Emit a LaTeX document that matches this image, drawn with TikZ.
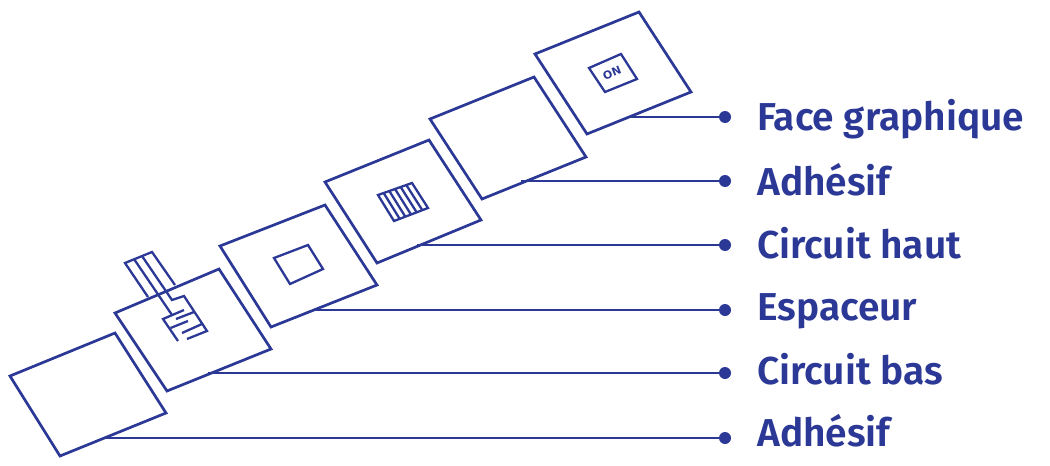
\documentclass[tikz,border=0pt]{standalone}
\usepackage{fontspec}
\setmainfont{Fira Sans SemiBold}
\newfontfamily\keyfont{DejaVu Sans}
\usetikzlibrary{calc}
\definecolor{navy}{RGB}{43,56,150}
\tikzset{
  sheet/.style={draw=navy,line width=2.7pt,line join=miter},
  thin part/.style={draw=navy,line width=2.3pt,line join=miter},
  leader/.style={draw=navy,line width=2.2pt},
  dot/.style={circle,fill=navy,inner sep=0pt,minimum size=12pt},
  lab/.style={anchor=base west,text=navy,font=\fontsize{38.9}{38.9}\selectfont,inner sep=0pt}
}
\begin{document}
\begin{tikzpicture}[x=1pt,y=-1pt]
\useasboundingbox (0,0) rectangle (1050,466);
% sheets
\draw[sheet] (10,376) -- (115,333) -- (166,413) -- (60,456) -- cycle;
\draw[sheet] (115,313) -- (219,269) -- (271,349) -- (167,391) -- cycle;
\draw[sheet] (220,246) -- (325,205) -- (377,285) -- (271,327) -- cycle;
\draw[sheet] (325,182) -- (429,140) -- (481,220) -- (377,263) -- cycle;
\draw[sheet] (430,119) -- (534,77) -- (586,157) -- (482,199) -- cycle;
\draw[sheet] (535,54) -- (639,12) -- (691,92) -- (587,134) -- cycle;
% leaders
\foreach \n/\sx/\y/\by/\t in {a/104/438/446/Adhésif,b/208/373/384/Circuit bas,c/312/310/320/Espaceur,d/417/245/258/Circuit haut,e/521/181/195/Adhésif,f/631/117/130/Face graphique}{
  \coordinate (s\n) at (\sx,\y);
  \node[dot] (dot\n) at (725,\y) {};
  \draw[leader] (s\n) -- (dot\n);
  \node[lab] (lab\n) at (757,\by) {\t};
}
% tail and comb on circuit bas
\draw[thin part] (148,297) -- (125,263) -- (152,252) -- (175,285);
\draw[thin part] (134,259) -- (172,315);
\draw[thin part] (142,256) -- (172,300) -- (184,296) -- (207,331) -- (187,339);
\draw[thin part] (184,310) -- (163,319) -- (178,341);
\draw[thin part] (194,312) -- (176,319);
\draw[thin part] (170.5,328) -- (188,321);
\draw[thin part] (202,324) -- (182,333);
% spacer window
\draw[thin part] (274,258) -- (308,245) -- (323,269) -- (290,284) -- cycle;
% striped pad
\coordinate (pa) at (378,195);
\coordinate (pb) at (412,183);
\coordinate (pc) at (428,208);
\coordinate (pd) at (394,221);
\draw[thin part] (pa) -- (pb) -- (pc) -- (pd) -- cycle;
\foreach \t in {0.167,0.333,0.5,0.667,0.833}{
  \draw[thin part] ($(pa)!\t!(pb)$) -- ($(pd)!\t!(pc)$);
}
% ON key
\draw[thin part] (589,68) -- (621,54) -- (637,79) -- (605,92) -- cycle;
\node[rotate=22,text=navy,font=\keyfont\fontsize{11}{11}\selectfont\bfseries,inner sep=0pt] (on) at (612,73) {ON};
\end{tikzpicture}
\end{document}
